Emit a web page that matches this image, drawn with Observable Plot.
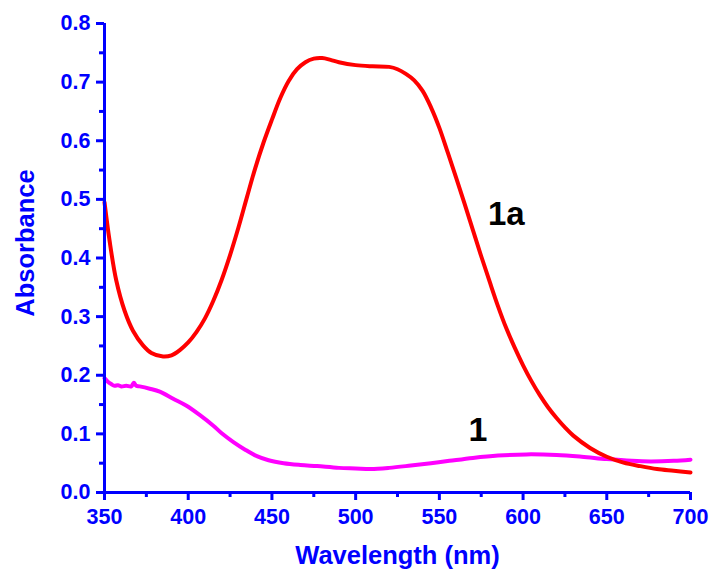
<!DOCTYPE html>
<html>
<head>
<meta charset="utf-8">
<script src="https://cdn.jsdelivr.net/npm/d3@7"></script>
<script src="https://cdn.jsdelivr.net/npm/@observablehq/plot@0.6"></script>
<style>
  html, body { margin: 0; padding: 0; background: white; }
</style>
</head>
<body>
<script>
// Curve 1a (red)
const wl1a = [350, 353, 357, 362, 367, 373, 378, 385, 390, 395, 400, 405, 410, 415, 420, 425, 430, 435, 440, 445, 450, 455, 460, 465, 470, 475, 480, 485, 490, 500, 510, 520, 525, 530, 535, 540, 545, 550, 555, 560, 565, 570, 575, 580, 585, 590, 595, 600, 605, 610, 615, 620, 625, 630, 640, 650, 660, 670, 680, 690, 700];
const abs1a = [0.495, 0.43, 0.362, 0.31, 0.276, 0.251, 0.238, 0.232, 0.234, 0.243, 0.256, 0.274, 0.297, 0.327, 0.363, 0.405, 0.452, 0.503, 0.553, 0.597, 0.636, 0.673, 0.702, 0.722, 0.734, 0.740, 0.741, 0.738, 0.734, 0.729, 0.727, 0.726, 0.722, 0.714, 0.703, 0.685, 0.657, 0.622, 0.58, 0.537, 0.493, 0.448, 0.403, 0.36, 0.318, 0.28, 0.247, 0.217, 0.19, 0.166, 0.145, 0.127, 0.111, 0.097, 0.076, 0.061, 0.051, 0.045, 0.040, 0.037, 0.034];

// Curve 1 (magenta)
const wl1 = [350, 352, 354, 356, 358, 360, 363, 366, 367.5, 369, 371, 377, 383, 391, 399, 407, 415, 420, 427, 434, 441, 448, 457, 467, 477, 490, 500, 509, 520, 533, 545, 556, 570, 585, 602, 620, 635, 650, 665, 676, 690, 700];
const abs1 = [0.195, 0.189, 0.185, 0.182, 0.183, 0.181, 0.182, 0.181, 0.187, 0.182, 0.181, 0.177, 0.172, 0.160, 0.148, 0.132, 0.114, 0.101, 0.086, 0.073, 0.062, 0.055, 0.050, 0.047, 0.045, 0.042, 0.041, 0.040, 0.042, 0.046, 0.050, 0.054, 0.059, 0.063, 0.065, 0.064, 0.061, 0.057, 0.054, 0.053, 0.054, 0.056];

// Ticks
const xMajor = [350, 400, 450, 500, 550, 600, 650, 700];
const xMinor = [375, 425, 475, 525, 575, 625, 675];
const yMajor = [0, 0.1, 0.2, 0.3, 0.4, 0.5, 0.6, 0.7, 0.8];
const yMinor = [0.05, 0.15, 0.25, 0.35, 0.45, 0.55, 0.65, 0.75];

// Curve labels (data coordinates)
const labelText = ["1a", "1"];
const labelX = [590, 573];
const labelY = [0.475, 0.107];
const labelSize = [33, 34];

const xTitle = "Wavelength (nm)";
const yTitle = "Absorbance";

const blue = "#0000ff";
const red = "#ff0000";
const magenta = "#ff00ff";

const s1a = wl1a.map((w, i) => ({wl: w, a: abs1a[i]}));
const s1 = wl1.map((w, i) => ({wl: w, a: abs1[i]}));
const labels = labelText.map((t, i) => ({t, x: labelX[i], y: labelY[i], s: labelSize[i]}));

const chart = Plot.plot({
  width: 712,
  height: 573,
  marginLeft: 104,
  marginRight: 22,
  marginTop: 23,
  marginBottom: 81,
  style: {fontFamily: "'Liberation Sans', Arial, sans-serif", background: "white"},
  x: {domain: [350, 700]},
  y: {domain: [0, 0.8]},
  marks: [
    Plot.line(s1, {x: "wl", y: "a", stroke: magenta, strokeWidth: 4, curve: "catmull-rom"}),
    Plot.line(s1a, {x: "wl", y: "a", stroke: red, strokeWidth: 4, curve: "catmull-rom"}),
    Plot.axisX(xMajor, {tickSize: 8, tickPadding: 8, color: blue, strokeWidth: 3, fontSize: 21.5, fontWeight: "bold", label: null, tickFormat: d3.format("d")}),
    Plot.axisX(xMinor, {tickSize: 5, color: blue, strokeWidth: 3, label: null, tickFormat: () => ""}),
    Plot.axisY(yMajor, {tickSize: 8, tickPadding: 6, color: blue, strokeWidth: 3, fontSize: 21.5, fontWeight: "bold", label: null, tickFormat: d3.format(".1f")}),
    Plot.axisY(yMinor, {tickSize: 5, color: blue, strokeWidth: 3, label: null, tickFormat: () => ""}),
    Plot.ruleX([350], {stroke: blue, strokeWidth: 3}),
    Plot.ruleY([0], {stroke: blue, strokeWidth: 3}),
    Plot.text([xTitle], {text: d => d, frameAnchor: "bottom", lineAnchor: "middle", textAnchor: "middle", dy: 63, fontSize: 25.5, fontWeight: "bold", fill: blue}),
    Plot.text([yTitle], {text: d => d, frameAnchor: "left", lineAnchor: "middle", textAnchor: "middle", rotate: -90, dx: -79, dy: -15, fontSize: 25.5, fontWeight: "bold", fill: blue}),
    Plot.text(labels, {x: "x", y: "y", text: "t", fontSize: d => d.s, fontWeight: "bold", fill: "black"})
  ]
});
document.body.appendChild(chart);
</script>
</body>
</html>
